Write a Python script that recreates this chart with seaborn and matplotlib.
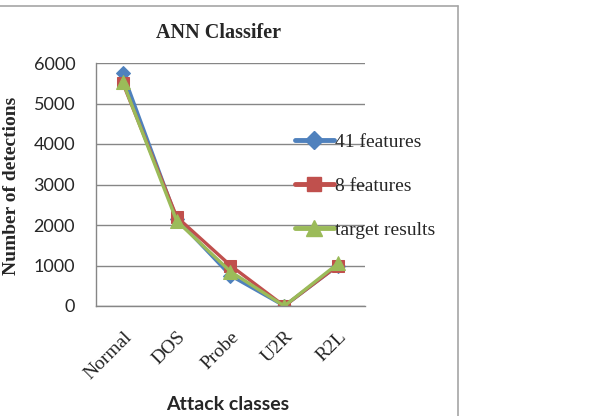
import pandas as pd
import matplotlib.pyplot as plt
import seaborn as sns
from matplotlib.lines import Line2D

categories = ['Normal', 'DOS', 'Probe', 'U2R', 'R2L']
feat41 = [5750, 2150, 750, 0, 1000]
feat8 = [5500, 2200, 1000, 0, 1000]
target = [5530, 2100, 850, 0, 1050]
yticks = [0, 1000, 2000, 3000, 4000, 5000, 6000]

series = {'41 features': feat41, '8 features': feat8, 'target results': target}
data = pd.DataFrame({
    'cls': categories * 3,
    'pos': list(range(len(categories))) * 3,
    'count': feat41 + feat8 + target,
    'Labels': [k for k in series for _ in categories],
})

palette = {'41 features': '#4F81BD', '8 features': '#C0504D', 'target results': '#9BBB59'}
markers = {'41 features': 'D', '8 features': 's', 'target results': '^'}
msize = {'41 features': 7.5, '8 features': 9, 'target results': 9.5}

sns.set_style('white')
plt.rcParams['font.family'] = ['Liberation Serif', 'DejaVu Serif']

fig = plt.figure(figsize=(6.14, 4.16), dpi=100)
ax = fig.add_axes([96 / 614, 1 - 306 / 416, 269 / 614, 243 / 416])

for lab in series:
    sns.lineplot(data=data[data['Labels'] == lab], x='pos', y='count', color=palette[lab],
                 marker=markers[lab], markersize=msize[lab], markeredgecolor=palette[lab],
                 lw=2.4, ax=ax, label=lab, legend=False)

ax.set_xlim(-0.5, 4.5)
ax.set_ylim(0, 6000)
ax.set_yticks(yticks)
ax.set_yticklabels([str(v) for v in yticks], fontfamily='Lato', fontsize=13)
ax.set_xticks(range(len(categories)))
ax.set_xticklabels(categories, rotation=45, ha='right', rotation_mode='anchor', fontsize=14)
ax.tick_params(axis='y', length=5, color='#868686', width=1, pad=10)
ax.tick_params(axis='x', length=0, pad=16)
ax.grid(axis='y', color='#868686', lw=1)
ax.set_axisbelow(True)
for s in ['top', 'right']:
    ax.spines[s].set_visible(False)
for s in ['left', 'bottom']:
    ax.spines[s].set_color('#868686')
    ax.spines[s].set_linewidth(1)

ax.set_xlabel('')
ax.set_ylabel('')
fig.text(12 / 614, 1 - 186 / 416, 'Number of detections', rotation=90, ha='center', va='center',
         fontsize=14, fontweight='bold')
fig.text(228 / 614, 1 - 404 / 416, 'Attack classes', ha='center', va='center',
         fontfamily='Lato', fontsize=14, fontweight='bold')
fig.text(219 / 614, 1 - 33 / 416, 'ANN Classifer', ha='center', va='center',
         fontsize=14.5, fontweight='bold')

handles = [Line2D([], [], color=palette[k], marker=markers[k], markersize=msize[k] + 1.5,
                  lw=3.5) for k in series]
fig.legend(handles, list(series), loc='center left', bbox_to_anchor=(285 / 614, 1 - 186 / 416),
           frameon=False, fontsize=14, handlelength=2.0, handletextpad=0.05,
           labelspacing=1.35, borderpad=0)

fig.add_artist(Line2D([0, 458 / 614], [1 - 6 / 416, 1 - 6 / 416], color='#a6a6a6', lw=1.2))
fig.add_artist(Line2D([458 / 614, 458 / 614], [1 - 6 / 416, 0], color='#a6a6a6', lw=1.2))

plt.savefig('out.png', dpi=100)
